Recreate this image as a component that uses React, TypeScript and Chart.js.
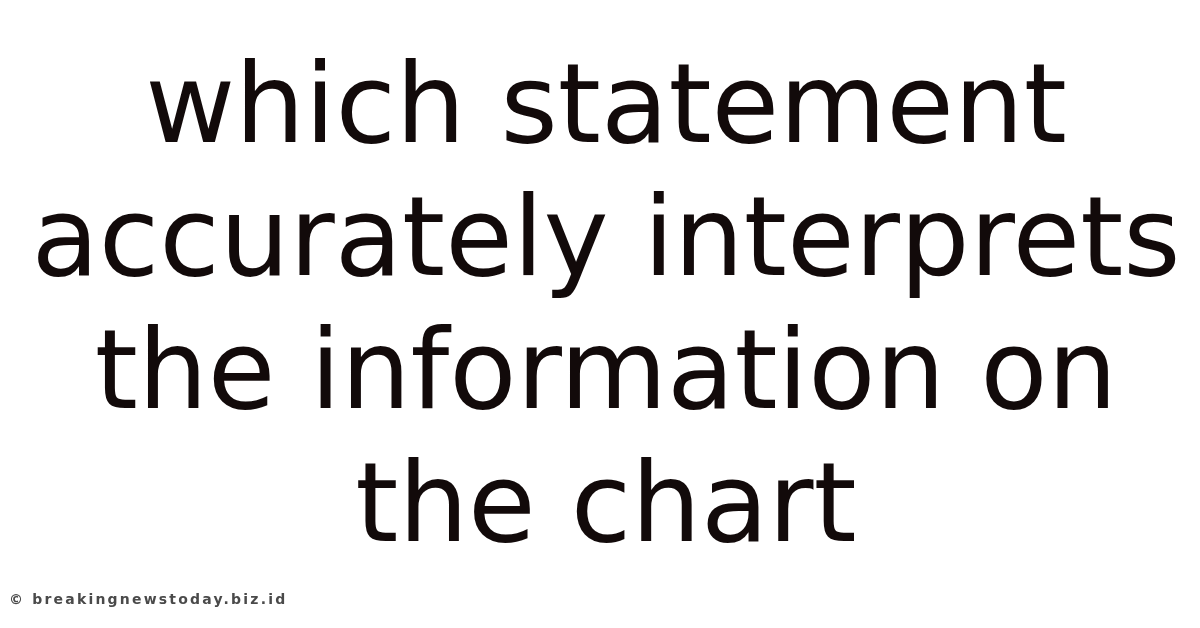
import { useEffect, useRef } from 'react';
import Chart from 'chart.js/auto';

// the "chart" in this picture is only a caption, so the data is empty
const titleLines = ['which statement', 'accurately interprets', 'the information on', 'the chart'];
const categories: string[] = [];
const seriesValues: number[] = [];
const watermark = '© breakingnewstoday.biz.id';

const App = () => {
  const chartRef = useRef<HTMLCanvasElement | null>(null);
  const chartInstance = useRef<Chart | null>(null);

  useEffect(() => {
    document.body.style.margin = '0';
    if (!chartRef.current) return;
    const ctx = chartRef.current.getContext('2d');
    if (!ctx) return;

    if (chartInstance.current) {
      chartInstance.current.destroy();
    }

    chartInstance.current = new Chart(ctx, {
      type: 'bar',
      data: {
        labels: categories,
        datasets: [{ label: '', data: seriesValues }],
      },
      options: {
        animation: false,
        responsive: true,
        maintainAspectRatio: false,
        layout: { padding: { left: 12, right: 0, top: 0, bottom: 0 } },
        scales: {
          x: { display: false },
          y: { display: false },
        },
        plugins: {
          legend: { display: false },
          tooltip: { enabled: false },
          title: {
            display: true,
            text: titleLines,
            color: '#120a0a',
            font: { family: '"DejaVu Sans"', size: 110, weight: 'normal', lineHeight: 133 / 110 },
            padding: { top: 47, bottom: 0 },
          },
        },
      },
    });

    return () => {
      if (chartInstance.current) {
        chartInstance.current.destroy();
        chartInstance.current = null;
      }
    };
  }, []);

  return (
    <div style={{ position: 'fixed', left: 0, top: 0, width: '1200px', height: '628px', background: '#fff' }}>
      <canvas ref={chartRef} />
      <div
        style={{
          position: 'absolute',
          left: '9px',
          top: '591px',
          fontFamily: '"DejaVu Sans", sans-serif',
          fontSize: '14px',
          fontWeight: 'bold',
          letterSpacing: '2.2px',
          color: '#4a4a4a',
          whiteSpace: 'nowrap',
        }}
      >
        {watermark}
      </div>
    </div>
  );
};

export default App;
